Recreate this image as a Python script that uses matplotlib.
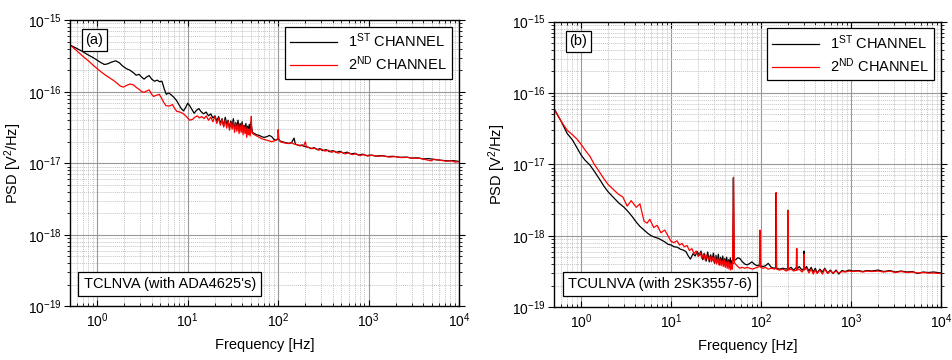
import matplotlib
matplotlib.use("Agg")
import matplotlib.pyplot as plt
import numpy as np

plt.rcParams["font.family"] = ["Liberation Sans", "DejaVu Sans"]
plt.rcParams["mathtext.fontset"] = "custom"
plt.rcParams["mathtext.rm"] = "Liberation Sans"
plt.rcParams["mathtext.it"] = "Liberation Sans:italic"
plt.rcParams["mathtext.bf"] = "Liberation Sans:bold"

# ---- panel (a): TCLNVA, PSD [V^2/Hz] ----
freq_a1 = [0.5, 0.6, 0.7, 0.8, 0.9, 1.0, 1.1, 1.2, 1.3, 1.45, 1.6, 1.75, 1.9, 2.1, 2.3, 2.5, 2.7, 2.9,
           3.1, 3.3, 3.5, 3.75, 4.0, 4.3, 4.6, 4.9, 5.2, 5.5, 5.8, 6.2, 6.6, 7.0, 7.5, 8.0, 8.5, 9.0,
           9.5, 10.0, 10.5, 11.0, 11.8, 12.5, 13.3, 14.0, 15.0, 16.0, 17.0, 18.0, 19.0,
           20, 21, 22, 23, 24, 25, 26, 27, 28, 29, 30, 31, 32, 33, 34, 35, 36, 37, 38, 39, 40,
           41, 42, 43, 44, 45, 46, 47, 48, 49, 50, 51, 52,
           55, 58, 62, 66, 70, 75, 80, 85, 90, 95, 100, 105, 110, 120, 130, 140, 150, 155, 165,
           175, 185, 200, 215, 230, 250, 270, 290, 310, 340, 370, 400, 440, 480, 530, 580, 640,
           700, 780, 860, 950, 1050, 1200, 1400, 1600, 1900, 2200, 2600, 3000, 3500, 4000, 4700,
           5500, 6500, 7500, 8500, 10000]
psd_a1 = [4.5e-16, 4.0e-16, 3.6e-16, 3.25e-16, 3.0e-16, 2.75e-16, 2.55e-16, 2.4e-16, 2.45e-16,
          2.6e-16, 2.7e-16, 2.55e-16, 2.3e-16, 2.1e-16, 2.0e-16, 1.85e-16, 1.7e-16, 1.75e-16,
          1.6e-16, 1.5e-16, 1.6e-16, 1.68e-16, 1.5e-16, 1.4e-16, 1.45e-16, 1.38e-16, 1.4e-16,
          1.1e-16, 9.2e-17, 9.6e-17, 9.0e-17, 8.4e-17, 7.6e-17, 6.6e-17, 5.8e-17, 5.4e-17,
          6.0e-17, 6.9e-17, 6.4e-17, 5.8e-17, 5.0e-17, 5.5e-17, 5.8e-17, 5.3e-17, 4.9e-17,
          5.2e-17, 4.6e-17, 4.9e-17, 4.3e-17,
          4.6e-17, 3.9e-17, 4.5e-17, 3.6e-17, 4.2e-17, 3.3e-17, 4.4e-17, 3.5e-17, 4.0e-17,
          3.1e-17, 3.9e-17, 3.3e-17, 4.2e-17, 3.0e-17, 3.7e-17, 3.2e-17, 4.0e-17, 2.9e-17,
          3.6e-17, 3.1e-17, 3.8e-17, 2.8e-17, 3.4e-17, 3.0e-17, 3.6e-17, 2.7e-17, 3.3e-17,
          2.8e-17, 3.5e-17, 2.6e-17, 3.8e-17, 3.2e-17, 2.7e-17,
          2.6e-17, 2.5e-17, 2.45e-17, 2.35e-17, 2.3e-17, 2.35e-17, 2.45e-17, 2.35e-17, 2.15e-17,
          2.1e-17, 2.2e-17, 2.05e-17, 2.0e-17, 1.95e-17, 1.9e-17, 1.92e-17, 2.25e-17, 1.85e-17,
          1.8e-17, 1.75e-17, 1.8e-17, 1.7e-17, 1.68e-17, 1.6e-17, 1.65e-17, 1.55e-17, 1.6e-17,
          1.5e-17, 1.55e-17, 1.45e-17, 1.5e-17, 1.42e-17, 1.47e-17, 1.38e-17, 1.43e-17, 1.35e-17,
          1.38e-17, 1.3e-17, 1.34e-17, 1.28e-17, 1.3e-17, 1.26e-17, 1.28e-17, 1.24e-17, 1.25e-17,
          1.21e-17, 1.22e-17, 1.18e-17, 1.19e-17, 1.15e-17, 1.16e-17, 1.12e-17, 1.1e-17,
          1.08e-17, 1.09e-17, 1.06e-17]

freq_a2 = [0.5, 0.6, 0.7, 0.8, 0.9, 1.0, 1.1, 1.2, 1.35, 1.5, 1.65, 1.8, 1.95, 2.1, 2.3, 2.5, 2.7,
           2.9, 3.1, 3.3, 3.5, 3.75, 4.0, 4.2, 4.5, 4.85, 5.1, 5.4, 5.75, 6.2, 6.8, 7.2, 7.6, 8.2,
           8.8, 9.5, 10.0, 10.5, 11.3, 12.0, 12.8, 13.5, 14.3, 15.2, 16, 17, 18, 19,
           20, 21, 22, 23, 24, 25, 26, 27, 28, 29, 30, 31, 32, 33, 34, 35, 36, 37, 38, 39, 40,
           41, 42, 43, 44, 45, 46, 47, 48, 49, 50, 50.5, 51, 52,
           55, 58, 62, 66, 70, 75, 80, 85, 90, 95, 99, 100, 102, 106, 112, 120, 130, 140, 150,
           160, 170, 180, 190, 200, 205, 220, 240, 260, 280, 300, 330, 360, 390, 420, 460, 500,
           550, 600, 660, 720, 800, 880, 980, 1100, 1250, 1450, 1700, 2000, 2300, 2700, 3100,
           3600, 4200, 4900, 5300, 6200, 7200, 8300, 9000, 10000]
psd_a2 = [4.5e-16, 3.7e-16, 3.1e-16, 2.7e-16, 2.35e-16, 2.1e-16, 1.9e-16, 1.75e-16, 1.58e-16,
          1.45e-16, 1.32e-16, 1.2e-16, 1.16e-16, 1.22e-16, 1.28e-16, 1.25e-16, 1.15e-16, 1.08e-16,
          1.0e-16, 9.8e-17, 1.02e-16, 1.06e-16, 9.2e-17, 8.6e-17, 8.9e-17, 9.2e-17, 8.3e-17,
          7.2e-17, 6.4e-17, 6.3e-17, 6.6e-17, 5.8e-17, 5.3e-17, 5.2e-17, 5.0e-17, 4.6e-17,
          4.3e-17, 4.0e-17, 4.1e-17, 4.4e-17, 4.6e-17, 4.3e-17, 4.5e-17, 4.2e-17, 4.6e-17,
          4.0e-17, 4.4e-17, 3.8e-17,
          4.5e-17, 3.6e-17, 4.3e-17, 3.4e-17, 4.1e-17, 3.2e-17, 4.0e-17, 3.1e-17, 3.9e-17,
          2.9e-17, 3.7e-17, 3.0e-17, 3.8e-17, 2.7e-17, 3.6e-17, 2.8e-17, 3.5e-17, 2.6e-17,
          3.4e-17, 2.7e-17, 3.5e-17, 2.5e-17, 3.3e-17, 2.6e-17, 3.2e-17, 2.3e-17, 3.1e-17,
          2.5e-17, 3.0e-17, 2.4e-17, 2.9e-17, 4.5e-17, 3.0e-17, 2.6e-17,
          2.5e-17, 2.4e-17, 2.3e-17, 2.2e-17, 2.15e-17, 2.1e-17, 2.05e-17, 2.0e-17, 2.05e-17,
          2.1e-17, 2.2e-17, 2.95e-17, 2.15e-17, 2.0e-17, 1.95e-17, 1.92e-17, 1.88e-17, 1.95e-17,
          1.85e-17, 1.82e-17, 1.78e-17, 1.8e-17, 1.72e-17, 2.0e-17, 1.7e-17, 1.65e-17, 1.6e-17,
          1.62e-17, 1.52e-17, 1.58e-17, 1.48e-17, 1.52e-17, 1.42e-17, 1.48e-17, 1.38e-17,
          1.44e-17, 1.35e-17, 1.4e-17, 1.32e-17, 1.36e-17, 1.28e-17, 1.32e-17, 1.26e-17, 1.3e-17,
          1.25e-17, 1.27e-17, 1.22e-17, 1.24e-17, 1.2e-17, 1.21e-17, 1.17e-17, 1.18e-17,
          1.13e-17, 1.08e-17, 1.14e-17, 1.1e-17, 1.07e-17, 1.08e-17, 1.04e-17, 1.05e-17]

# ---- panel (b): TCULNVA, PSD [V^2/Hz] ----
freq_b1 = [0.5, 0.6, 0.7, 0.8, 0.9, 1.0, 1.1, 1.25, 1.4, 1.6, 1.8, 2.0, 2.3, 2.6, 3.0, 3.3, 3.7,
           4.1, 4.5, 5.0, 5.5, 6.0, 6.6, 7.2, 7.8, 8.5, 9.2, 10, 10.8, 11.7, 12.6, 13.6, 14.6,
           15.5, 16.4, 17.5, 18.5, 19.5, 20.5, 21.5,
           22.5, 23.5, 24.5, 25.5, 26.5, 27.5, 28.5, 29.5, 30.5, 31.5, 32.5, 33.5, 34.5, 35.5,
           36.5, 37.5, 38.5, 39.5, 40.5, 41.5, 42.5, 43.5, 44.5, 45.5, 46.5, 47.5, 48.5, 49.2,
           50, 52, 55, 58, 62, 66, 70, 75, 79, 84, 90, 96, 97, 98, 105, 112, 120, 130, 140, 146,
           147, 148, 160, 175, 190, 197, 198, 199, 215, 230, 247, 248, 249, 265, 285, 299, 300,
           302, 320, 340, 360, 380, 400, 420, 450, 480, 510, 550, 590, 630, 680, 730, 790, 860,
           950, 1050, 1200, 1350, 1500, 1700, 2000, 2300, 2700, 3100, 3600, 4200, 4800, 5500,
           6300, 7200, 8300, 10000]
psd_b1 = [6.0e-17, 4.0e-17, 2.7e-17, 2.2e-17, 1.7e-17, 1.35e-17, 1.15e-17, 9.8e-18, 8.0e-18,
          6.2e-18, 4.9e-18, 4.1e-18, 3.4e-18, 2.9e-18, 2.5e-18, 2.2e-18, 1.85e-18, 1.55e-18,
          1.35e-18, 1.2e-18, 1.08e-18, 1.0e-18, 9.5e-19, 9.2e-19, 8.7e-19, 8.2e-19, 7.6e-19,
          7.4e-19, 7.0e-19, 6.9e-19, 6.5e-19, 6.3e-19, 6.0e-19, 5.2e-19, 4.7e-19, 5.6e-19,
          5.2e-19, 6.0e-19, 5.3e-19, 6.1e-19,
          4.6e-19, 5.6e-19, 4.4e-19, 5.9e-19, 4.3e-19, 5.4e-19, 4.5e-19, 5.7e-19, 4.1e-19,
          5.3e-19, 4.3e-19, 5.5e-19, 3.9e-19, 5.0e-19, 4.2e-19, 5.2e-19, 3.8e-19, 4.8e-19,
          4.0e-19, 5.0e-19, 3.7e-19, 4.6e-19, 3.9e-19, 4.9e-19, 3.6e-19, 4.5e-19, 4.0e-19,
          6.5e-18, 4.5e-19, 4.6e-19, 4.9e-19, 4.8e-19, 4.3e-19, 4.0e-19, 3.9e-19, 4.1e-19,
          4.3e-19, 4.0e-19, 3.8e-19, 3.9e-19, 1.19e-18, 3.8e-19, 3.7e-19, 3.8e-19, 4.1e-19,
          3.6e-19, 3.5e-19, 3.6e-19, 4.0e-18, 3.5e-19, 3.4e-19, 3.5e-19, 3.4e-19, 3.5e-19,
          2.27e-18, 3.4e-19, 3.6e-19, 3.3e-19, 3.6e-19, 6.6e-19, 3.4e-19, 3.7e-19, 3.3e-19,
          3.5e-19, 6.1e-19, 3.4e-19, 3.7e-19, 3.2e-19, 3.6e-19, 3.1e-19, 3.5e-19, 3.0e-19,
          3.4e-19, 3.1e-19, 3.5e-19, 3.0e-19, 3.3e-19, 2.95e-19, 3.3e-19, 2.9e-19, 3.25e-19,
          3.15e-19, 3.3e-19, 3.2e-19, 3.25e-19, 3.15e-19, 3.25e-19, 3.2e-19, 3.3e-19, 3.15e-19,
          3.25e-19, 3.1e-19, 3.2e-19, 3.1e-19, 3.15e-19, 2.95e-19, 3.1e-19, 3.05e-19, 3.1e-19,
          3.0e-19]

freq_b2 = [0.5, 0.6, 0.7, 0.8, 0.9, 1.0, 1.1, 1.25, 1.4, 1.6, 1.8, 2.0, 2.3, 2.6, 2.9, 3.25, 3.6,
           4.1, 4.5, 5.0, 5.4, 5.8, 6.4, 7.0, 7.7, 8.5, 9.2, 10, 10.8, 11.6, 12.4, 13.2, 14.0,
           15.0, 16.0, 17.0, 18.0, 19.0,
           20, 21, 22, 23, 24, 25, 26, 27, 28, 29, 30, 31, 32, 33, 34, 35, 36, 37, 38, 39, 40,
           41, 42, 43, 44, 45, 46, 47, 48, 49.5, 50.5,
           52, 55, 58, 62, 66, 70, 75, 80, 85, 90, 96, 97.5, 99, 105, 112, 120, 130, 140, 146,
           147.5, 149, 160, 175, 190, 197, 198.5, 200, 215, 230, 247, 248.5, 250, 265, 285, 299,
           300.5, 302, 320, 340, 360, 380, 400, 420, 450, 480, 510, 550, 590, 630, 680, 730,
           790, 860, 950, 1050, 1200, 1350, 1500, 1700, 2000, 2300, 2700, 3100, 3600, 4200,
           4800, 5500, 6300, 7200, 8300, 10000]
psd_b2 = [6.0e-17, 4.0e-17, 3.0e-17, 2.6e-17, 2.25e-17, 1.9e-17, 1.6e-17, 1.3e-17, 1.0e-17,
          7.8e-18, 6.2e-18, 5.2e-18, 4.4e-18, 3.8e-18, 3.5e-18, 2.6e-18, 3.1e-18, 2.5e-18,
          2.8e-18, 1.6e-18, 1.5e-18, 1.7e-18, 1.3e-18, 1.4e-18, 1.1e-18, 1.2e-18, 1.0e-18,
          8.3e-19, 8.0e-19, 8.5e-19, 7.4e-19, 7.8e-19, 7.0e-19, 7.3e-19, 6.2e-19, 6.6e-19,
          5.6e-19, 6.1e-19,
          5.1e-19, 5.8e-19, 4.8e-19, 5.6e-19, 4.5e-19, 5.4e-19, 4.6e-19, 5.2e-19, 4.3e-19,
          5.0e-19, 4.2e-19, 5.1e-19, 4.0e-19, 4.8e-19, 3.9e-19, 4.7e-19, 3.8e-19, 4.5e-19,
          3.7e-19, 4.6e-19, 3.6e-19, 4.3e-19, 3.5e-19, 4.4e-19, 3.4e-19, 4.2e-19, 3.3e-19,
          4.0e-19, 3.4e-19, 6.6e-18, 4.2e-19,
          4.0e-19, 3.7e-19, 3.5e-19, 3.6e-19, 3.5e-19, 3.6e-19, 3.5e-19, 3.4e-19, 3.5e-19,
          3.6e-19, 3.7e-19, 1.19e-18, 3.6e-19, 3.5e-19, 3.6e-19, 3.4e-19, 3.5e-19, 3.4e-19,
          3.5e-19, 4.0e-18, 3.4e-19, 3.3e-19, 3.4e-19, 3.2e-19, 3.3e-19, 2.27e-18, 3.3e-19,
          3.4e-19, 3.2e-19, 3.3e-19, 6.6e-19, 3.3e-19, 3.4e-19, 3.1e-19, 3.4e-19, 5.5e-19,
          3.3e-19, 3.5e-19, 3.0e-19, 3.4e-19, 2.9e-19, 3.3e-19, 2.95e-19, 3.3e-19, 2.9e-19,
          3.4e-19, 2.95e-19, 3.2e-19, 3.0e-19, 3.2e-19, 3.0e-19, 3.15e-19, 3.1e-19, 3.2e-19,
          3.15e-19, 3.2e-19, 3.1e-19, 3.2e-19, 3.15e-19, 3.2e-19, 3.1e-19, 3.2e-19, 3.05e-19,
          3.15e-19, 3.05e-19, 3.1e-19, 3.0e-19, 3.05e-19, 3.0e-19, 3.0e-19, 2.95e-19]

series_labels = [r"1$^{\mathrm{ST}}$ CHANNEL", r"2$^{\mathrm{ND}}$ CHANNEL"]
panel_tags = ["(a)", "(b)"]
panel_names = ["TCLNVA (with ADA4625's)", "TCULNVA (with 2SK3557-6)"]
x_ticks = [1e0, 1e1, 1e2, 1e3, 1e4]
y_ticks = [1e-19, 1e-18, 1e-17, 1e-16, 1e-15]


def style_axes(ax):
    ax.set_xscale("log")
    ax.set_yscale("log")
    ax.set_xlim(0.5, 1e4)
    ax.set_ylim(1e-19, 1e-15)
    ax.set_xticks(x_ticks)
    ax.set_yticks(y_ticks)
    ax.grid(True, which="major", color="#999999", linewidth=0.8)
    ax.grid(True, which="minor", color="#c4c4c4", linewidth=0.7, linestyle=(0, (1, 1)))
    ax.tick_params(which="both", direction="in", top=True, right=True, labelsize=10)
    ax.tick_params(axis="y", which="both", direction="out", pad=2)
    ax.tick_params(which="major", length=4, width=0.8)
    ax.tick_params(which="minor", length=2.5, width=0.6)
    for sp in ax.spines.values():
        sp.set_linewidth(1.0)
    ax.set_xlabel("Frequency [Hz]", fontsize=10.5, labelpad=6)
    ax.set_ylabel(r"PSD [V$^2$/Hz]", fontsize=10.5, labelpad=3)


fig = plt.figure(figsize=(9.52, 3.6), dpi=100)
ax_a = fig.add_axes([0.0735, 0.149, 0.4087, 0.795])
ax_b = fig.add_axes([0.582, 0.147, 0.4065, 0.793])

panels = [
    (ax_a, (freq_a1, psd_a1), (freq_a2, psd_a2)),
    (ax_b, (freq_b1, psd_b1), (freq_b2, psd_b2)),
]

for i, (ax, s1, s2) in enumerate(panels):
    ax.plot(s1[0], s1[1], color="black", linewidth=0.9, label=series_labels[0])
    ax.plot(s2[0], s2[1], color="#ff0000", linewidth=0.9, label=series_labels[1])
    style_axes(ax)
    leg = ax.legend(loc="upper right", fontsize=10.5, frameon=True, fancybox=False,
                    edgecolor="black", framealpha=1.0, handlelength=3.2,
                    borderpad=0.35, labelspacing=0.3, borderaxespad=0.45)
    leg.get_frame().set_linewidth(0.9)
    ax.text(0.04, 0.955, panel_tags[i], transform=ax.transAxes, fontsize=10.5,
            ha="left", va="top",
            bbox=dict(boxstyle="square,pad=0.25", facecolor="white", edgecolor="black",
                      linewidth=0.9))
    ax.text(0.035, 0.055, panel_names[i], transform=ax.transAxes, fontsize=10.5,
            ha="left", va="bottom",
            bbox=dict(boxstyle="square,pad=0.35", facecolor="white", edgecolor="black",
                      linewidth=0.9))

fig.savefig("out.png", dpi=100)
